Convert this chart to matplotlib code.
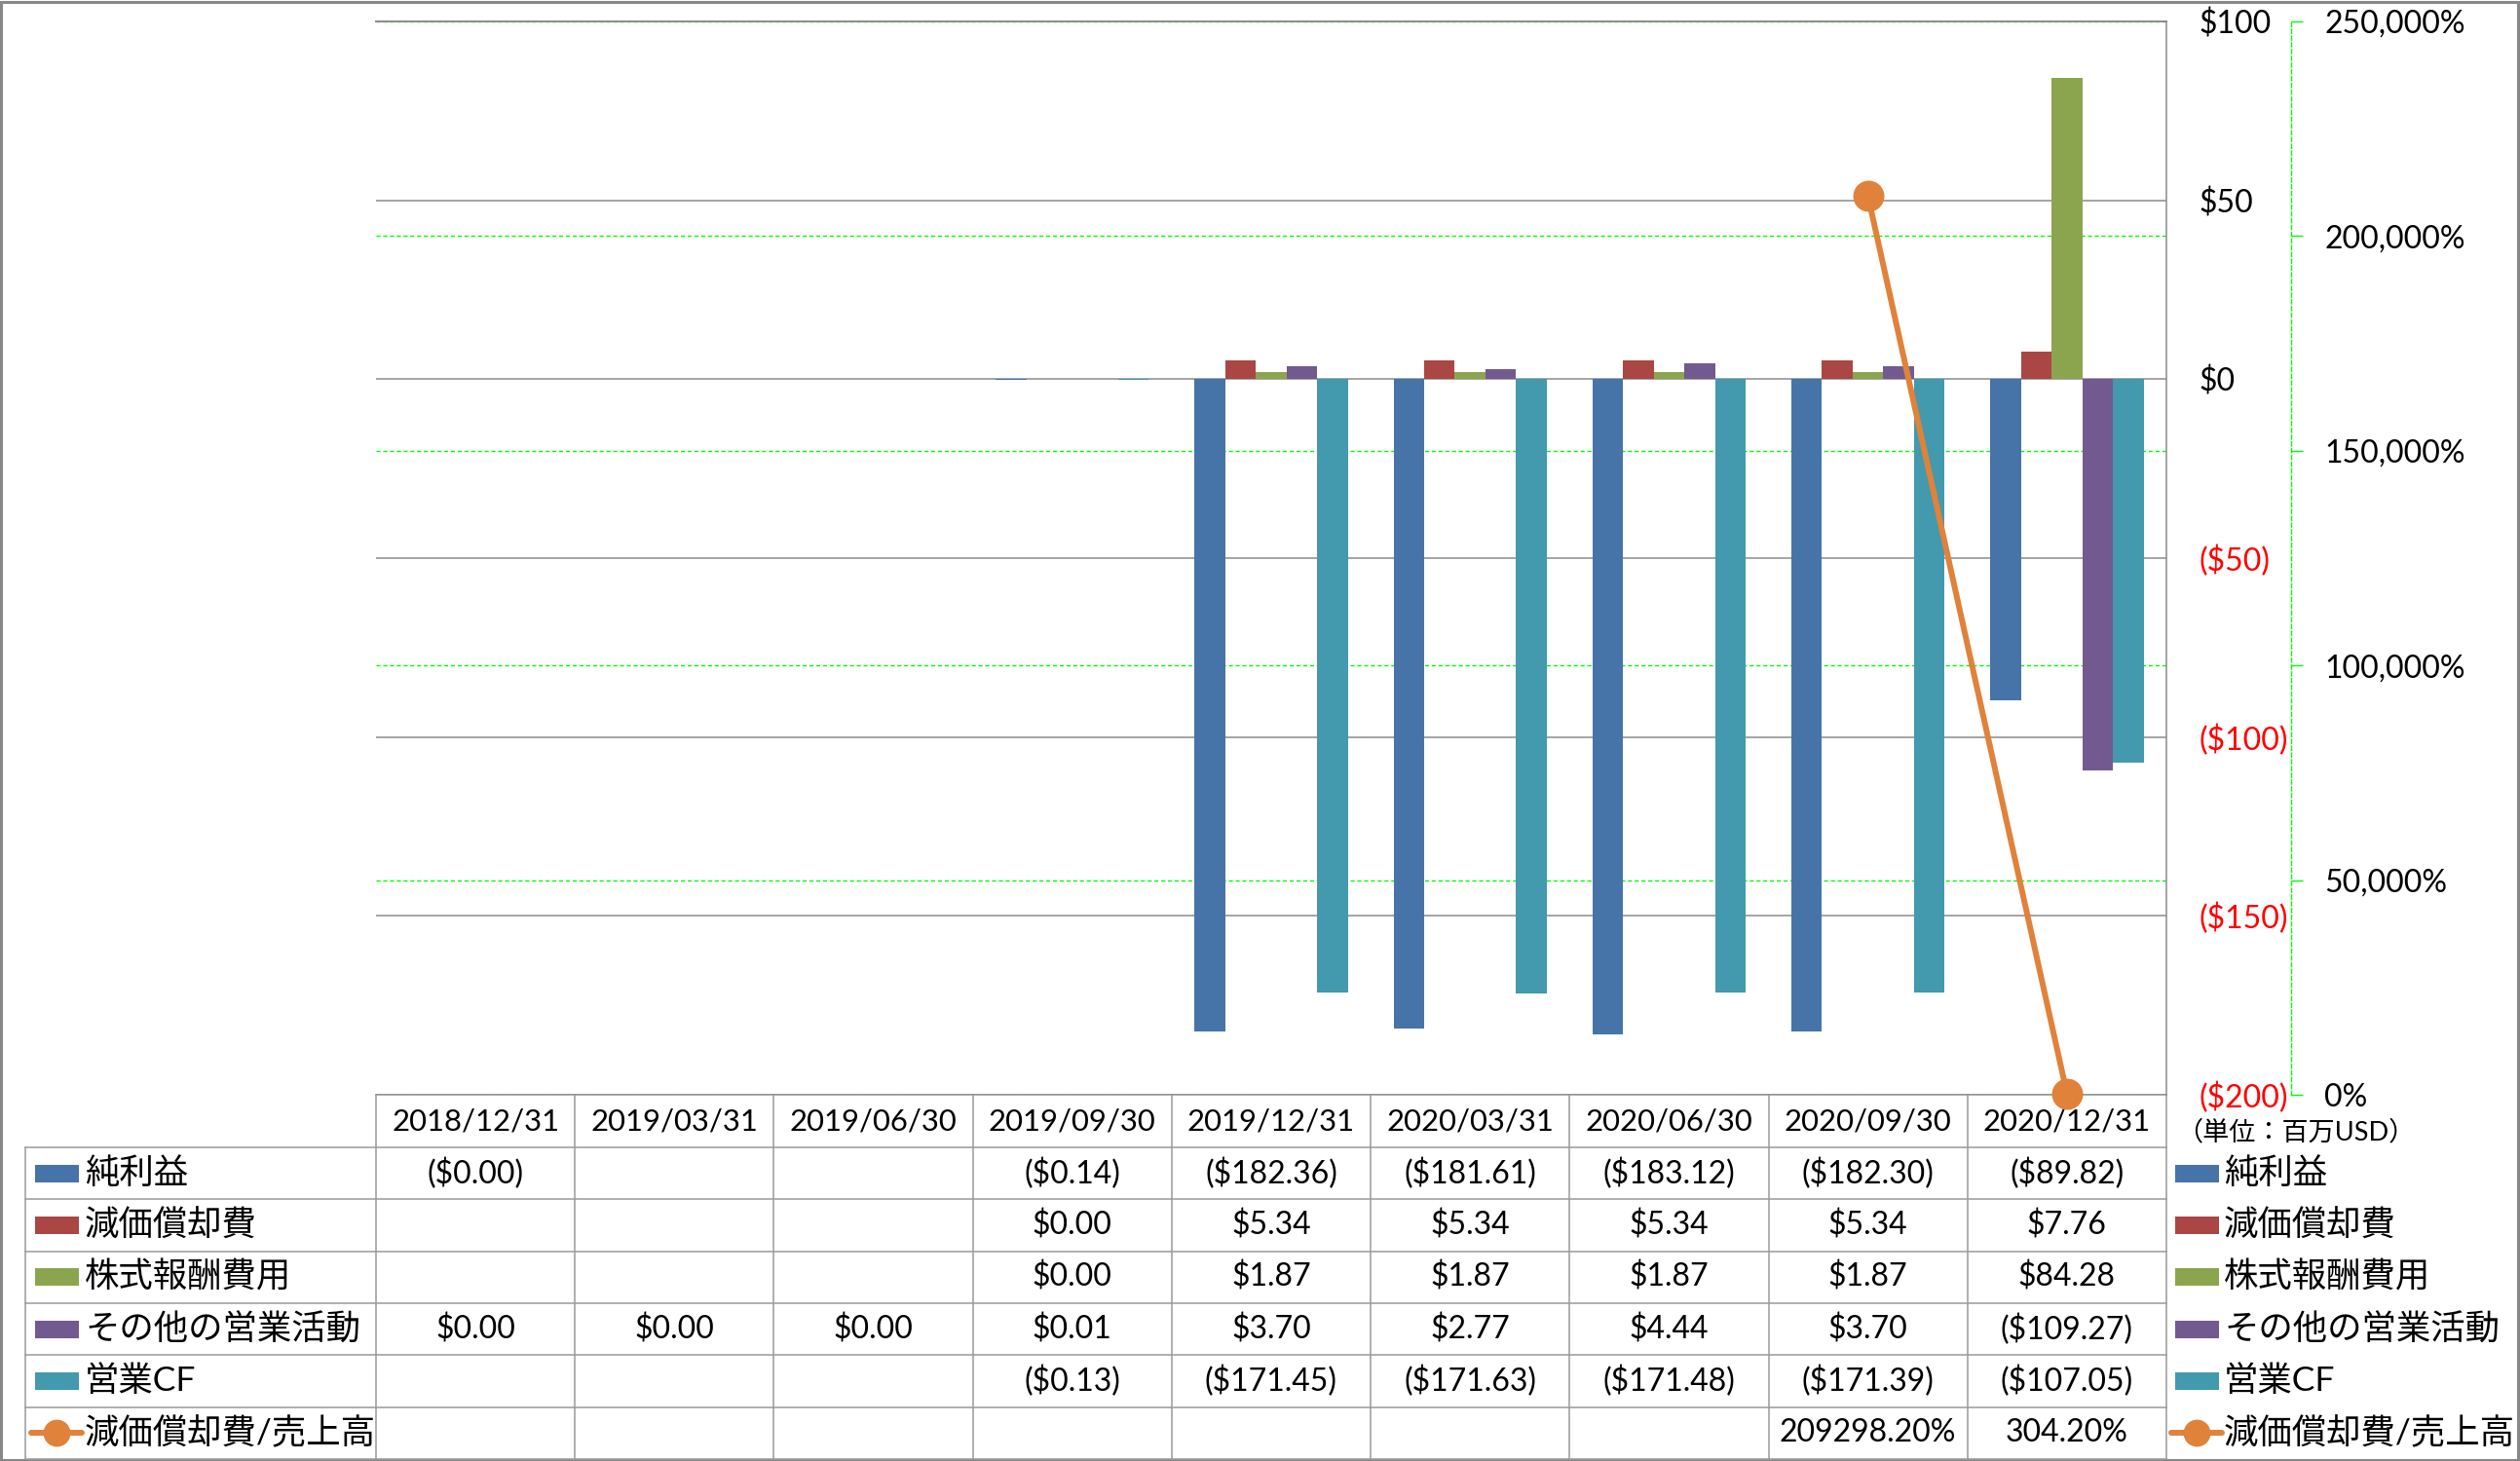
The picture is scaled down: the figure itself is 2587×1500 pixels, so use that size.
import numpy as np
import matplotlib
matplotlib.use("Agg")
import matplotlib.pyplot as plt
from matplotlib.patches import Rectangle
from matplotlib.lines import Line2D

plt.rcParams['font.family'] = ['Lato', 'Noto Sans CJK JP', 'DejaVu Sans']

# ---------------- data ----------------
dates = ["2018/12/31", "2019/03/31", "2019/06/30", "2019/09/30", "2019/12/31",
         "2020/03/31", "2020/06/30", "2020/09/30", "2020/12/31"]
nan = np.nan
net_income = [-0.004, nan, nan, -0.14, -182.36, -181.61, -183.12, -182.30, -89.82]
depreciation = [nan, nan, nan, 0.00, 5.34, 5.34, 5.34, 5.34, 7.76]
stock_comp = [nan, nan, nan, 0.00, 1.87, 1.87, 1.87, 1.87, 84.28]
other_ops = [0.00, 0.00, 0.00, 0.01, 3.70, 2.77, 4.44, 3.70, -109.27]
op_cf = [nan, nan, nan, -0.13, -171.45, -171.63, -171.48, -171.39, -107.05]
dep_ratio = [nan, nan, nan, nan, nan, nan, nan, 209298.20, 304.20]  # percent

bar_names = ["純利益", "減価償却費", "株式報酬費用", "その他の営業活動", "営業CF"]
line_name = "減価償却費/売上高"
bar_series = [net_income, depreciation, stock_comp, other_ops, op_cf]
bar_colors = ["#4674A8", "#AA4644", "#8BA54E", "#725A90", "#4399AE"]
line_color = "#E0823A"

y_ticks = [-200, -150, -100, -50, 0, 50, 100]
y2_ticks = [0, 50000, 100000, 150000, 200000, 250000]
unit_label = "（単位：百万USD）"

# ---------------- layout ----------------
W, H = 2587, 1500
DPI = 100
fig = plt.figure(figsize=(W / DPI, H / DPI), dpi=DPI)
fig.patch.set_facecolor("white")

NUM_FS = 23
JP_FS = 25.5

px_left, px_right, px_top, px_bottom = 386, 2224, 22, 1124
ax = fig.add_axes([px_left / W, 1 - px_bottom / H,
                   (px_right - px_left) / W, (px_bottom - px_top) / H])
ax2 = ax.twinx()
ax.set_zorder(2)
ax2.set_zorder(1)
ax.patch.set_visible(False)

n = len(dates)
x = np.arange(n)
bw = 0.154
for i, (vals, col) in enumerate(zip(bar_series, bar_colors)):
    ax.bar(x + (i - 2) * bw, vals, width=bw, color=col, linewidth=0, zorder=3)

ax.set_xlim(-0.5, n - 0.5)
ax.set_ylim(-200, 100)
ax.set_xticks([])


def money(v):
    return f"(${abs(v):,.0f})" if v < 0 else f"${v:,.0f}"


ax.set_yticks(y_ticks, labels=[money(v) for v in y_ticks])
ax.yaxis.tick_right()
ax.tick_params(axis='y', length=0, pad=24, labelsize=NUM_FS)
for lbl, v in zip(ax.get_yticklabels(), y_ticks):
    lbl.set_color("red" if v < 0 else "black")
ax.yaxis.grid(True, color="#8C8C8C", linewidth=1.1)
ax.set_axisbelow(True)
# top border line of the plot area (gray, same as gridlines)
ax.axhline(y_ticks[-1], color="#8C8C8C", linewidth=1.4, clip_on=False, zorder=1)
for s in ["left", "top", "bottom"]:
    ax.spines[s].set_visible(False)
ax.spines["right"].set_color("#8C8C8C")
ax.spines["right"].set_linewidth(1.1)

# secondary axis
ax2.set_ylim(0, 250000)
ax2.set_yticks(y2_ticks, labels=[f"{v:,}%" for v in y2_ticks])
ax2.yaxis.grid(True, color="#00FF00", linestyle=(0, (3, 2)), linewidth=1.0)
for s in ["left", "top", "bottom"]:
    ax2.spines[s].set_visible(False)
ax2.spines["right"].set_position(("axes", (2352 - px_left) / (px_right - px_left)))
ax2.spines["right"].set_color("#00FF00")
ax2.spines["right"].set_linestyle((0, (3, 2)))
ax2.spines["right"].set_linewidth(1.0)
ax2.tick_params(axis='y', direction='out', length=8.6, width=1.0, color="#00FF00",
                pad=16, labelsize=NUM_FS)
ax2.set_xticks([])

# ratio line (drawn above bars, in secondary-axis units)
ax.plot(x, dep_ratio, transform=ax2.transData, color=line_color, linewidth=4.3,
        marker='o', markersize=22, markerfacecolor=line_color,
        markeredgecolor=line_color, clip_on=False, zorder=6)

# ---------------- table ----------------
tax = fig.add_axes([0, 0, 1, 1])
tax.set_xlim(0, W)
tax.set_ylim(H, 0)
tax.axis('off')

grid_c = "#9A9A9A"
lw_t = 1.1
colw = (px_right - px_left) / n
label_left = 26
hdr_top, hdr_bot = 1124, 1178
row_h = (1498 - hdr_bot) / 6

# header
tax.plot([px_left, px_right], [hdr_top, hdr_top], color=grid_c, lw=lw_t)
for j, d in enumerate(dates):
    cx = px_left + (j + 0.5) * colw
    tax.text(cx, (hdr_top + hdr_bot) / 2, d, ha='center', va='center', fontsize=22.3)

# horizontal lines
for k in range(7):
    yy = hdr_bot + k * row_h
    tax.plot([label_left, px_right], [yy, yy], color=grid_c, lw=lw_t)
# vertical lines
tax.plot([label_left, label_left], [hdr_bot, 1498], color=grid_c, lw=lw_t)
for j in range(n + 1):
    xx = px_left + j * colw
    tax.plot([xx, xx], [hdr_top, 1498], color=grid_c, lw=lw_t)


def fmt_money(v):
    if v is None or (isinstance(v, float) and np.isnan(v)):
        return ""
    return f"(${abs(v):,.2f})" if v < 0 else f"${v:,.2f}"


def fmt_pct(v):
    if v is None or (isinstance(v, float) and np.isnan(v)):
        return ""
    return f"{v:.2f}%"


rows = [(bar_names[i], bar_series[i], fmt_money, bar_colors[i]) for i in range(5)]
rows.append((line_name, dep_ratio, fmt_pct, None))

for r, (name, vals, f, col) in enumerate(rows):
    cy = hdr_bot + (r + 0.5) * row_h
    for j, v in enumerate(vals):
        s = f(v)
        if s:
            tax.text(px_left + (j + 0.5) * colw, cy, s, ha='center', va='center',
                     fontsize=NUM_FS)
    # legend keys: inside table and on right side
    for kx, tx in [(36, 87), (2233, 2283)]:
        if col is not None:
            tax.add_patch(Rectangle((kx, cy - 9), 45, 18, color=col, lw=0))
        else:
            tax.add_line(Line2D([kx - 4, kx + 48], [cy, cy], color=line_color, lw=4.3,
                                solid_capstyle='round'))
            tax.add_line(Line2D([kx + 22], [cy], marker='o', markersize=19,
                                color=line_color, lw=0))
        tax.text(tx, cy, name, ha='left', va='center', fontsize=JP_FS)

tax.text(2357, 1163, unit_label, ha='center', va='center', fontsize=19.5)

# outer figure border
tax.add_patch(Rectangle((1.5, 1.5), W - 3, H - 3, fill=False, edgecolor="#888888", lw=2.2))

fig.savefig("out.png", dpi=DPI, facecolor="white")
